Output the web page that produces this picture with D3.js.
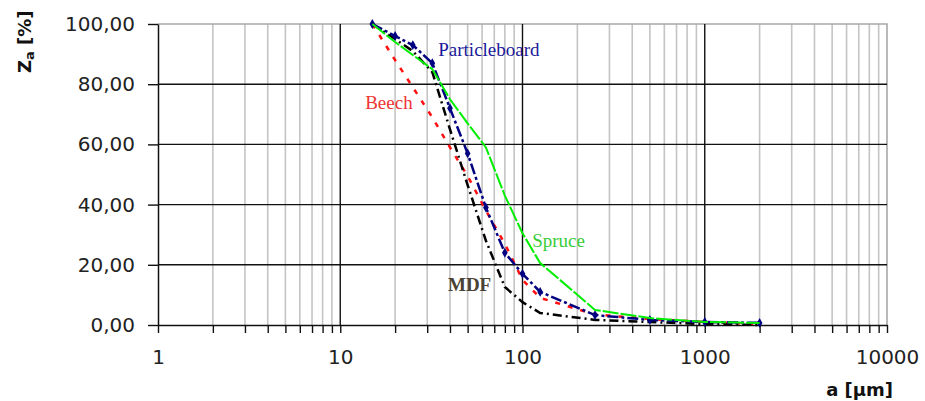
<!DOCTYPE html>
<html>
<head>
<meta charset="utf-8">
<script src="https://cdn.jsdelivr.net/npm/d3@7"></script>
<style>
    body { margin: 0; background: white; }
    svg { display: block; }
    .tick text { font-family: "DejaVu Sans", sans-serif; font-size: 20px; fill: #222; }
    .lbl { font-family: "Liberation Serif", serif; font-size: 19px; }
    .ttl { font-family: "DejaVu Sans", sans-serif; font-weight: bold; font-size: 18px; fill: #111; }
</style>
</head>
<body>
<svg width="925" height="401"></svg>

<script>

// sieve sizes (um)
var sizes = [15, 20, 25, 32, 40, 50, 63, 80, 100, 125, 250, 500, 1000, 2000];

// cumulative passing Za [%]
var particleboard = [100, 96, 93, 87, 72, 57, 39, 24, 17, 11, 3.3, 1.7, 1, 0.7];
var beech         = [100, 88, 79, 69, 59, 49.5, 38, 27, 15, 9, 3.5, 2, 1, 0.3];
var mdf           = [100, 95, 91, 84, 65, 46.5, 28, 12.6, 7.6, 4, 1.7, 1, 0.3, 0];
var spruce        = [100, 94, 89.7, 85, 75, 67, 59, 43, 30.5, 20.6, 5, 2.3, 1, 0.7];

var yTicks = [0, 20, 40, 60, 80, 100];
var xMajor = [1, 10, 100, 1000, 10000];

var series = [
    { name: 'Beech',         values: beech,         color: '#ff1010', dash: '5,8',        width: 2.5, markers: false },
    { name: 'MDF',           values: mdf,           color: '#000000', dash: '9,4,2,4',    width: 2.5, markers: false },
    { name: 'Particleboard', values: particleboard, color: '#000080', dash: '11,3,3,3',   width: 2.5, markers: true  },
    { name: 'Spruce',        values: spruce,        color: '#00ee00', dash: '16,2',       width: 2,   markers: false }
];

// text labels placed in data space
var labels = [
    { text: 'Particleboard', x: 34.5, y: 89.4, color: '#1a1a9a', bold: false },
    { text: 'Beech',         x: 13.7, y: 71.8, color: '#ee3535', bold: false },
    { text: 'Spruce',        x: 113,  y: 25.9, color: '#3acc3a', bold: false },
    { text: 'MDF',           x: 39,   y: 11.3, color: '#4a4232', bold: true  }
];

var svg = d3.select('svg');

var x = d3.scaleLog().domain([1, 10000]).range([158, 887]);
var y = d3.scaleLinear().domain([0, 100]).range([325, 24]);

// all log ticks 1..9 per decade
var xAll = [];
for (var p = 0; p < 4; p++) {
    for (var k = 1; k < 10; k++) xAll.push(k * Math.pow(10, p));
}
xAll.push(10000);
var xMinor = xAll.filter(function(d) { return xMajor.indexOf(d) < 0; });

// minor grid
svg.append('g')
    .selectAll('line')
    .data(xMinor)
    .enter()
    .append('line')
    .attr('x1', function(d) { return x(d); })
    .attr('x2', function(d) { return x(d); })
    .attr('y1', y(0))
    .attr('y2', y(100))
    .attr('stroke', '#c4c4c4')
    .attr('stroke-width', 1.6);

// plot border (top / right)
svg.append('path')
    .attr('d', 'M' + x(1) + ',' + y(100) + 'H' + x(10000) + 'V' + y(0))
    .attr('fill', 'none')
    .attr('stroke', '#a8a8a8')
    .attr('stroke-width', 1.6);

// major grid
svg.append('g')
    .selectAll('line')
    .data(xMajor.slice(1, 4))
    .enter()
    .append('line')
    .attr('x1', function(d) { return x(d); })
    .attr('x2', function(d) { return x(d); })
    .attr('y1', y(0))
    .attr('y2', y(100))
    .attr('stroke', '#111')
    .attr('stroke-width', 1.4);

svg.append('g')
    .selectAll('line')
    .data(yTicks.slice(1, 5))
    .enter()
    .append('line')
    .attr('x1', x(1))
    .attr('x2', x(10000))
    .attr('y1', function(d) { return y(d); })
    .attr('y2', function(d) { return y(d); })
    .attr('stroke', '#111')
    .attr('stroke-width', 1.4);

// axes
var fmt = d3.format('.2f');

var yAxis = svg.append('g')
    .attr('transform', 'translate(' + x(1) + ',0)')
    .call(d3.axisLeft(y).tickValues(yTicks).tickSize(10).tickSizeOuter(0).tickPadding(13)
        .tickFormat(function(d) { return fmt(d).replace('.', ','); }));

var xAxis = svg.append('g')
    .attr('transform', 'translate(0,' + y(0) + ')')
    .call(d3.axisBottom(x).tickValues(xAll).tickSize(8).tickSizeOuter(0).tickPadding(17)
        .tickFormat(function(d) { return xMajor.indexOf(d) >= 0 ? d : ''; }));

svg.selectAll('.domain').attr('stroke', '#111').attr('stroke-width', 1.5);
svg.selectAll('.tick line').attr('stroke', '#111').attr('stroke-width', 1.4);
svg.selectAll('.tick text').attr('font-family', null).attr('font-size', null);

// series lines
var line = d3.line()
    .x(function(d, i) { return x(sizes[i]); })
    .y(function(d) { return y(d); });

series.forEach(function(s) {
    svg.append('path')
        .datum(s.values)
        .attr('d', line)
        .attr('fill', 'none')
        .attr('stroke', s.color)
        .attr('stroke-width', s.width)
        .attr('stroke-dasharray', s.dash);

    if (s.markers) {
        svg.append('g')
            .selectAll('path')
            .data(s.values)
            .enter()
            .append('path')
            .attr('d', d3.symbol().type(d3.symbolDiamond).size(28))
            .attr('transform', function(d, i) { return 'translate(' + x(sizes[i]) + ',' + y(d) + ')'; })
            .attr('fill', '#000080');
    }
});

// labels
svg.append('g')
    .selectAll('text')
    .data(labels)
    .enter()
    .append('text')
    .attr('class', 'lbl')
    .attr('x', function(d) { return x(d.x); })
    .attr('y', function(d) { return y(d.y); })
    .attr('fill', function(d) { return d.color; })
    .attr('font-weight', function(d) { return d.bold ? 'bold' : 'normal'; })
    .text(function(d) { return d.text; });

// axis titles
var yt = svg.append('text')
    .attr('class', 'ttl')
    .attr('transform', 'translate(31,73) rotate(-90)');
yt.append('tspan').text('Z');
yt.append('tspan').attr('font-size', '13px').attr('dy', 3).text('a');
yt.append('tspan').attr('dy', -3).text(' [%]');

svg.append('text')
    .attr('class', 'ttl')
    .attr('x', 893)
    .attr('y', 396)
    .attr('text-anchor', 'end')
    .text('a [\u00b5m]');

</script>
</body>
</html>
